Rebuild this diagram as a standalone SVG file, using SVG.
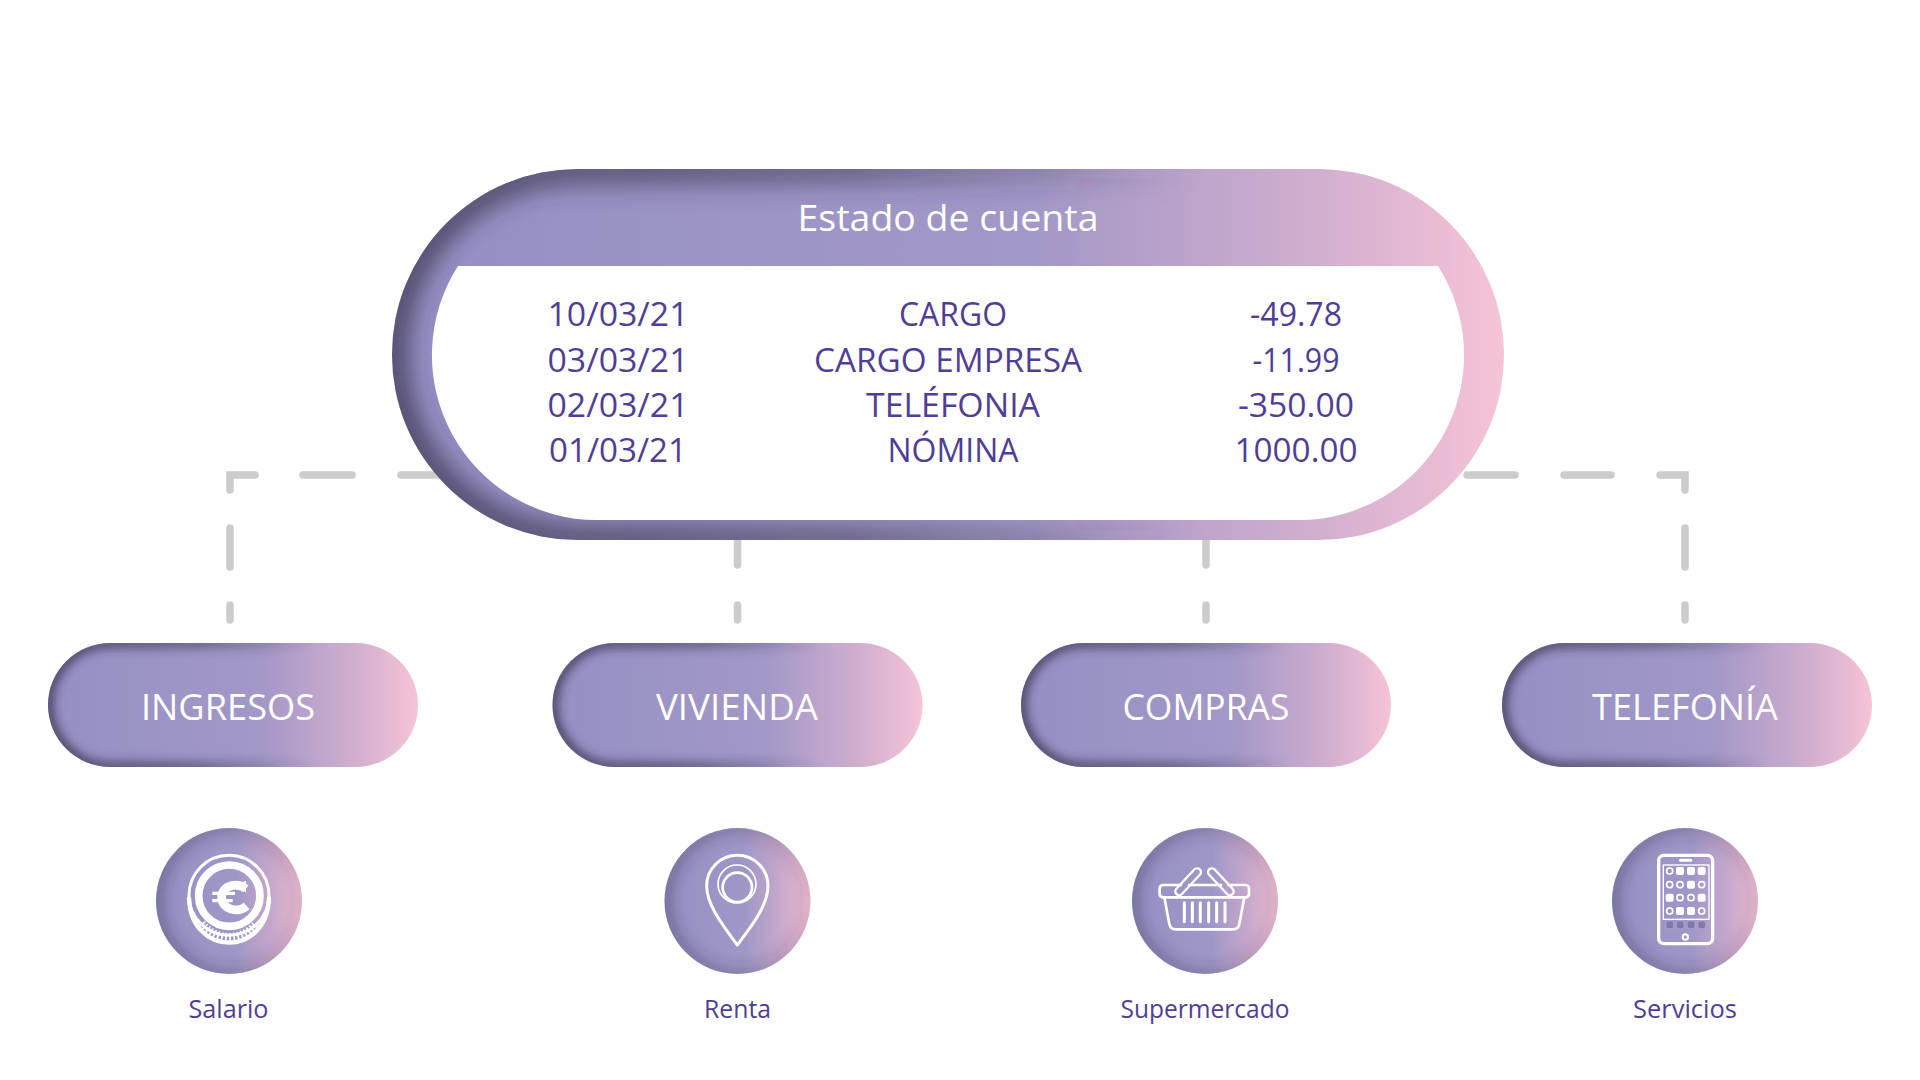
<svg xmlns="http://www.w3.org/2000/svg" width="1920" height="1080" viewBox="0 0 1920 1080">
<style>
text{font-family:"Open Sans","Noto Sans","Liberation Sans",sans-serif;font-weight:400;text-anchor:middle}
.title{fill:#fff;font-size:37px;font-weight:400}
.pilltext{fill:#fff;font-size:37px;font-weight:400}
.row{fill:#503e96;font-size:33px;font-weight:400}
.cap{fill:#503e96;font-size:25px;font-weight:400}
.conn{fill:none;stroke:#ccc;stroke-width:7.5;stroke-linecap:round;stroke-linejoin:miter}
.ic{fill:none;stroke:#fff;stroke-linecap:round;stroke-linejoin:round}
.w{fill:#fff}
.ring{fill:none;stroke:#fff;stroke-width:5}
.dock{fill:#8278ae;stroke:#fff;stroke-opacity:.35;stroke-width:2}
</style>
<defs>
<linearGradient id="g"><stop offset="0" stop-color="#9490c5"/><stop offset=".58" stop-color="#a398c7"/><stop offset=".8" stop-color="#cbabce"/><stop offset="1" stop-color="#f6c3d7"/></linearGradient>
<linearGradient id="gc"><stop offset="0" stop-color="#9490c5"/><stop offset=".55" stop-color="#a097c7"/><stop offset=".8" stop-color="#c8a8cb"/><stop offset="1" stop-color="#f0bcd2"/></linearGradient>
<linearGradient id="sh"><stop offset="0" stop-color="#332e45" stop-opacity=".95"/><stop offset=".4" stop-color="#332e45" stop-opacity=".65"/><stop offset=".72" stop-color="#332e45" stop-opacity="0"/></linearGradient>
<linearGradient id="shc"><stop offset="0" stop-color="#332e45" stop-opacity=".75"/><stop offset="1" stop-color="#332e45" stop-opacity=".25"/></linearGradient>
<filter id="b12" x="-20%" y="-40%" width="140%" height="180%"><feGaussianBlur stdDeviation="14"/></filter>
<filter id="b5" x="-20%" y="-40%" width="140%" height="180%"><feGaussianBlur stdDeviation="5.5"/></filter>
<filter id="b7" x="-30%" y="-30%" width="160%" height="160%"><feGaussianBlur stdDeviation="8"/></filter>
<clipPath id="cBig"><rect x="392" y="169" width="1112" height="371" rx="185.5"/></clipPath>
<clipPath id="c1"><rect x="48" y="643" width="370" height="124" rx="62"/></clipPath>
<clipPath id="c2"><rect x="552.5" y="643" width="370" height="124" rx="62"/></clipPath>
<clipPath id="c3"><rect x="1021" y="643" width="370" height="124" rx="62"/></clipPath>
<clipPath id="c4"><rect x="1502" y="643" width="370" height="124" rx="62"/></clipPath>
<clipPath id="k1"><circle cx="229" cy="901" r="73"/></clipPath>
<clipPath id="k2"><circle cx="737.5" cy="901" r="73"/></clipPath>
<clipPath id="k3"><circle cx="1205" cy="901" r="73"/></clipPath>
<clipPath id="k4"><circle cx="1685" cy="901" r="73"/></clipPath>
</defs>
<rect width="1920" height="1080" fill="#fff"/>
<g id="connectors">
<path class="conn" d="M440 475H401M352 475H303M255 475H230V490M230 528V567M230 605V620"/>
<path class="conn" d="M1467 475H1515M1564 475H1611M1660 475H1685V490M1685 528V567M1685 605V620"/>
<path class="conn" d="M737.5 535V565M737.5 605V620"/>
<path class="conn" d="M1206 535V565M1206 605V620"/>
</g>
<g id="estado">
<rect x="392" y="169" width="1112" height="371" rx="185.5" fill="url(#g)"/>
<g clip-path="url(#cBig)"><rect x="392" y="169" width="1112" height="371" rx="185.5" fill="none" stroke="url(#sh)" stroke-width="24" filter="url(#b12)"/></g>
<path d="M458 266H1438A165 165 0 0 1 1299 520H597A165 165 0 0 1 458 266Z" fill="#fff"/>
<text class="title" x="948" y="231" textLength="301" lengthAdjust="spacingAndGlyphs">Estado de cuenta</text>
<text class="row" x="618" y="326" textLength="141" lengthAdjust="spacingAndGlyphs">10/03/21</text>
<text class="row" x="618" y="372" textLength="141" lengthAdjust="spacingAndGlyphs">03/03/21</text>
<text class="row" x="618" y="417" textLength="141" lengthAdjust="spacingAndGlyphs">02/03/21</text>
<text class="row" x="618" y="462" textLength="138" lengthAdjust="spacingAndGlyphs">01/03/21</text>
<text class="row" x="953" y="326" textLength="108" lengthAdjust="spacingAndGlyphs">CARGO</text>
<text class="row" x="948" y="372" textLength="268" lengthAdjust="spacingAndGlyphs">CARGO EMPRESA</text>
<text class="row" x="953" y="417" textLength="174" lengthAdjust="spacingAndGlyphs">TELÉFONIA</text>
<text class="row" x="953" y="462" textLength="131" lengthAdjust="spacingAndGlyphs">NÓMINA</text>
<text class="row" x="1296" y="326" textLength="92" lengthAdjust="spacingAndGlyphs">-49.78</text>
<text class="row" x="1296" y="372" textLength="87" lengthAdjust="spacingAndGlyphs">-11.99</text>
<text class="row" x="1296" y="417" textLength="116" lengthAdjust="spacingAndGlyphs">-350.00</text>
<text class="row" x="1296" y="462" textLength="123" lengthAdjust="spacingAndGlyphs">1000.00</text>
</g>
<g id="ingresos">
<rect x="48" y="643" width="370" height="124" rx="62" fill="url(#g)"/>
<g clip-path="url(#c1)"><rect x="48" y="643" width="370" height="124" rx="62" fill="none" stroke="url(#sh)" stroke-width="9" filter="url(#b5)"/></g>
<text class="pilltext" x="228" y="720" textLength="174" lengthAdjust="spacingAndGlyphs">INGRESOS</text>
</g>
<g id="vivienda">
<rect x="552.5" y="643" width="370" height="124" rx="62" fill="url(#g)"/>
<g clip-path="url(#c2)"><rect x="552.5" y="643" width="370" height="124" rx="62" fill="none" stroke="url(#sh)" stroke-width="9" filter="url(#b5)"/></g>
<text class="pilltext" x="737" y="720" textLength="162" lengthAdjust="spacingAndGlyphs">VIVIENDA</text>
</g>
<g id="compras">
<rect x="1021" y="643" width="370" height="124" rx="62" fill="url(#g)"/>
<g clip-path="url(#c3)"><rect x="1021" y="643" width="370" height="124" rx="62" fill="none" stroke="url(#sh)" stroke-width="9" filter="url(#b5)"/></g>
<text class="pilltext" x="1206" y="720" textLength="167" lengthAdjust="spacingAndGlyphs">COMPRAS</text>
</g>
<g id="telefonia">
<rect x="1502" y="643" width="370" height="124" rx="62" fill="url(#g)"/>
<g clip-path="url(#c4)"><rect x="1502" y="643" width="370" height="124" rx="62" fill="none" stroke="url(#sh)" stroke-width="9" filter="url(#b5)"/></g>
<text class="pilltext" x="1685" y="720" textLength="186" lengthAdjust="spacingAndGlyphs">TELEFONÍA</text>
</g>
<g id="salario">
<circle cx="229" cy="901" r="73" fill="url(#gc)"/>
<g clip-path="url(#k1)"><circle cx="229" cy="901" r="73" fill="none" stroke="url(#shc)" stroke-width="7" filter="url(#b7)"/></g>
<g transform="translate(140 810) scale(.3333)">
<circle class="ic" cx="267" cy="256" r="120" stroke-width="9"/>
<circle class="ic" cx="268" cy="257" r="92" stroke-width="23"/>
<path class="ic" d="M147 265C150 350 205 398 267 398C329 398 384 350 387 265" stroke-width="13"/>
<path d="M185 340A102 102 0 0 0 350 340" fill="none" stroke="#fff" stroke-width="26" stroke-dasharray="5 7"/>
<path d="M318 236C290 216 245 226 245 262C245 300 295 310 320 288" fill="none" stroke="#fff" stroke-width="26"/>
<path class="w" d="M296 222L318 212V248Z"/>
<path d="M217 250H285M217 272H278" stroke="#fff" stroke-width="10" fill="none"/>
</g>
<text class="cap" x="228.5" y="1018" textLength="80" lengthAdjust="spacingAndGlyphs">Salario</text>
</g>
<g id="renta">
<circle cx="737.5" cy="901" r="73" fill="url(#gc)"/>
<g clip-path="url(#k2)"><circle cx="737.5" cy="901" r="73" fill="none" stroke="url(#shc)" stroke-width="7" filter="url(#b7)"/></g>
<g transform="translate(650 810) scale(.3333)">
<path class="ic" stroke-width="9" d="M262 405C230 360 170 290 170 228A92 92 0 0 1 354 228C354 290 295 360 262 405Z"/>
<circle class="ic" cx="261" cy="222" r="57" stroke-width="5"/>
<circle class="ic" cx="262" cy="232" r="44" stroke-width="8"/>
</g>
<text class="cap" x="737.5" y="1018" textLength="67" lengthAdjust="spacingAndGlyphs">Renta</text>
</g>
<g id="supermercado">
<circle cx="1205" cy="901" r="73" fill="url(#gc)"/>
<g clip-path="url(#k3)"><circle cx="1205" cy="901" r="73" fill="none" stroke="url(#shc)" stroke-width="7" filter="url(#b7)"/></g>
<g transform="translate(1115 810) scale(.3333)">
<path class="ic" stroke-width="8" d="M198 225H145Q134 225 134 236V252Q134 262 146 262H390Q402 262 402 252V236Q402 225 390 225H340M318 225H222"/>
<path class="ic" stroke-width="8" d="M148 262L163 342Q166 358 182 358H354Q370 358 373 342L388 262"/>
<path class="ic" stroke-width="9" d="M208 278V335M232 278V335M256 278V335M281 278V335M305 278V335M330 278V335"/>
<rect class="ic" x="168" y="204" width="102" height="23" rx="11.5" stroke-width="7" transform="rotate(-47 219 215)"/>
<rect class="ic" x="267" y="204" width="102" height="23" rx="11.5" stroke-width="7" transform="rotate(47 318 215)"/>
</g>
<text class="cap" x="1205" y="1018" textLength="169" lengthAdjust="spacingAndGlyphs">Supermercado</text>
</g>
<g id="servicios">
<circle cx="1685" cy="901" r="73" fill="url(#gc)"/>
<g clip-path="url(#k4)"><circle cx="1685" cy="901" r="73" fill="none" stroke="url(#shc)" stroke-width="7" filter="url(#b7)"/></g>
<g transform="translate(1595 810) scale(.3333)">
<rect class="ic" x="191" y="136" width="162" height="265" rx="16" stroke-width="10"/>
<rect class="w" x="252" y="146" width="40" height="9" rx="4.5"/>
<rect x="205" y="165" width="137" height="163" fill="none" stroke="#fff" stroke-width="4"/>
<circle class="ic" cx="271" cy="381" r="8" stroke-width="6"/>
<rect class="ring" x="215" y="174" width="18" height="18" rx="8"/>
<rect class="w" x="243" y="171" width="24" height="24" rx="6"/>
<rect class="w" x="276" y="171" width="24" height="24" rx="6"/>
<rect class="w" x="308" y="171" width="24" height="24" rx="6"/>
<rect class="ring" x="215" y="215" width="18" height="18" rx="8"/>
<rect class="ring" x="246" y="215" width="18" height="18" rx="8"/>
<rect class="w" x="276" y="212" width="24" height="24" rx="6"/>
<rect class="ring" x="311" y="215" width="18" height="18" rx="8"/>
<rect class="w" x="212" y="251" width="24" height="24" rx="6"/>
<rect class="ring" x="246" y="254" width="18" height="18" rx="8"/>
<rect class="ring" x="279" y="254" width="18" height="18" rx="8"/>
<rect class="w" x="308" y="251" width="24" height="24" rx="6"/>
<rect class="ring" x="215" y="294" width="18" height="18" rx="8"/>
<rect class="w" x="243" y="291" width="24" height="24" rx="6"/>
<rect class="w" x="276" y="291" width="24" height="24" rx="6"/>
<rect class="ring" x="311" y="294" width="18" height="18" rx="8"/>
<rect class="dock" x="213" y="333" width="23" height="23" rx="6"/>
<rect class="dock" x="244" y="333" width="23" height="23" rx="6"/>
<rect class="dock" x="277" y="333" width="23" height="23" rx="6"/>
<rect class="dock" x="309" y="333" width="23" height="23" rx="6"/>
</g>
<text class="cap" x="1685" y="1018" textLength="104" lengthAdjust="spacingAndGlyphs">Servicios</text>
</g>
</svg>
